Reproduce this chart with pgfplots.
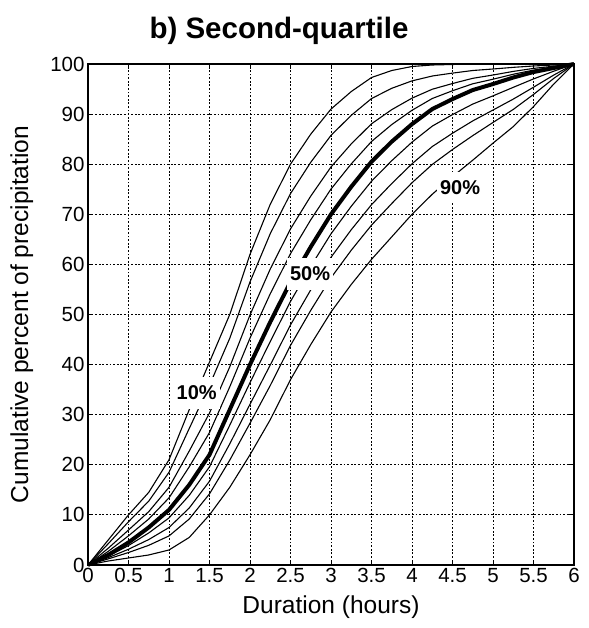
\documentclass[border=0pt]{standalone}
\usepackage{fontspec}
\setmainfont{Liberation Sans}
\usepackage{pgfplots}
\usepackage{pgfplotstable}
\pgfplotsset{compat=1.18}

% Cumulative rainfall curves (percentiles of the mass curve), second-quartile storms
\pgfplotstableread{
x    p10   p20   p30   p40   p50   p60   p70   p80   p90
0    0     0     0     0     0     0     0     0     0
0.25 5     4.25  3.35  2.72  2     1.76  1.47  1.22  0.8
0.5  10    8.63  6.98  5.82  4.5   3.88  3.14  2.49  1.4
0.75 14.5  12.75 10.65 9.18  7.5   6.4   5.08  3.93  2
1    21    18.5  15.5  13.4  11    9.4   7.48  5.8   3
1.25 31    27.25 22.75 19.6  16    13.9  11.38 9.18  5.5
1.5  40.5  35.88 30.33 26.44 22    19.6  16.72 14.2  10
1.75 50    45.25 39.55 35.56 31    27.9  24.18 20.93 15.5
2    62    56.5  49.9  45.28 40    36.4  32.08 28.3  22
2.25 72    66.13 59.08 54.14 48.5  44.6  39.92 35.83 29
2.5  80    74.13 67.08 62.14 56.5  52.6  47.92 43.83 37
2.75 86    80.38 73.63 68.9  63.5  59.6  54.92 50.83 44
3    91    85.75 79.45 75.04 70    66.1  61.42 57.33 50.5
3.25 94.5  89.75 84.05 80.06 75.5  71.6  66.92 62.83 56
3.5  97.3  93.1  88.06 84.53 80.5  76.6  71.92 67.83 61
3.75 98.7  95.15 90.89 87.91 84.5  80.7  76.14 72.15 65.5
4    99.5  96.63 93.18 90.76 88    84.4  80.08 76.3  70
4.25 99.8  97.6  94.96 93.11 91    87.6  83.52 79.95 74
4.5  99.9  98.18 96.1  94.66 93    89.9  86.18 82.93 77.5
4.75 100   98.7  97.14 96.05 94.8  92    88.64 85.7  80.8
5    100   99    97.8  96.96 96    93.64 90.81 88.33 84.2
5.25 100   99.33 98.52 97.95 97.3  95.34 92.99 90.93 87.5
5.5  100   99.6  99.12 98.78 98.4  97.02 95.36 93.92 91.5
5.75 100   99.8  99.56 99.39 99.2  98.56 97.79 97.12 96
6    100   100   100   100   100   100   100   100   100
}\curves

\tikzset{
  curve/.style={black, solid, no markers, line width=1.1pt},
  pct/.style={fill=white, inner xsep=3pt, inner ysep=9pt,
              font=\bfseries\fontsize{20}{22}\selectfont},
}

\begin{document}
\begin{tikzpicture}
\useasboundingbox (-88pt,-63pt) rectangle (500pt,565pt);
\begin{axis}[
  scale only axis,
  width=486pt, height=501pt,
  xmin=0, xmax=6, ymin=0, ymax=100,
  xtick={0,0.5,...,6},
  ytick={0,10,...,100},
  grid=major,
  major grid style={black, line width=0.9pt, dash pattern=on 1.8pt off 1.8pt},
  tick align=inside,
  major tick length=5pt,
  axis line style={black, line width=1.5pt},
  tick style={black, line width=1pt},
  /pgf/number format/assume math mode=true,
  ticklabel style={font=\fontsize{20.5}{24}\selectfont},
  xlabel={Duration (hours)},
  ylabel={Cumulative percent of precipitation},
  label style={font=\fontsize{24.5}{28}\selectfont},
  xlabel style={at={(axis description cs:0.5,-0.084)}, anchor=center},
  ylabel style={at={(axis description cs:-0.136,0.5)}, anchor=center},
  clip=false,
]
\foreach \c in {p10,p20,p30,p40,p60,p70,p80,p90}{
  \addplot[curve] table[x=x, y=\c] {\curves};
}
\addplot[curve, line width=4pt] table[x=x, y=p50] {\curves};

% anchor points for the percentile tags
\coordinate (t10) at (axis cs:1.342,34.4);
\coordinate (t50) at (axis cs:2.741,58.1);
\coordinate (t90) at (axis cs:4.593,75.4);

\node[font=\bfseries\fontsize{29.5}{34}\selectfont] at (axis description cs:0.393,1.066) {b) Second-quartile};
\end{axis}
% percentile tags drawn over the curves
\node[pct] at (t10) {10\%};
\node[pct] at (t50) {50\%};
\node[pct, inner ysep=8pt] at (t90) {90\%};
\end{tikzpicture}
\end{document}
